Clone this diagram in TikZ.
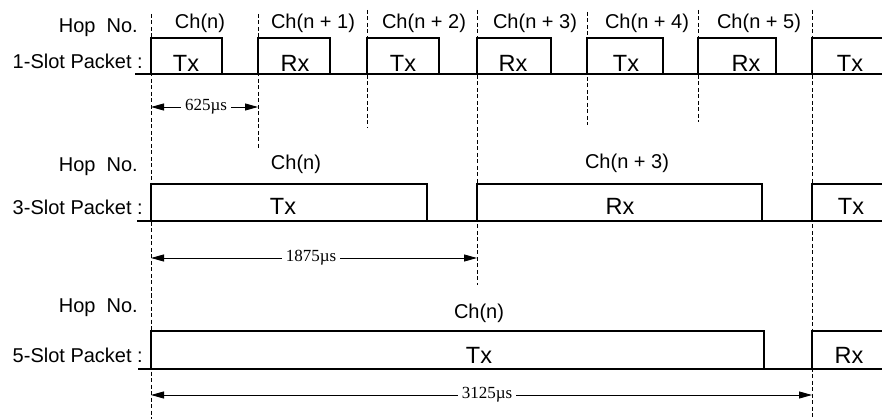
\documentclass[tikz,border=0pt]{standalone}
\usepackage{fontspec}
\setmainfont{Liberation Sans}
\newfontfamily\dimfont{Liberation Serif}
\usetikzlibrary{arrows.meta}
\begin{document}
\begin{tikzpicture}[x=1pt,y=-1pt,
  lbl/.style={font=\fontsize{20}{24}\selectfont, inner sep=0pt, anchor=base},
  rlbl/.style={lbl, anchor=base east},
  sigtxt/.style={font=\fontsize{23.5}{27}\selectfont, inner sep=0pt, anchor=base},
  dimtxt/.style={font=\dimfont\fontsize{17}{20}\selectfont, inner sep=4pt},
  sig/.style={line width=1.35pt, line join=miter},
  gridline/.style={line width=1pt, dash pattern=on 4pt off 2.5pt},
  dimarr/.style={-{Triangle[length=13pt,width=7pt]}, line width=0.9pt}]
\useasboundingbox (0,0) rectangle (882,419);

% ---- dashed slot boundaries
\coordinate (g0t) at (151,14);  \coordinate (g0b) at (151,419);
\coordinate (g1t) at (258,14);  \coordinate (g1b) at (258,150);
\coordinate (g2t) at (367,10);  \coordinate (g2b) at (367,128);
\coordinate (g3t) at (477,10);  \coordinate (g3b) at (477,285);
\coordinate (g4t) at (587,12);  \coordinate (g4b) at (587,125);
\coordinate (g5t) at (698,10);  \coordinate (g5b) at (698,122);
\coordinate (g6t) at (812,10);  \coordinate (g6b) at (812,419);
\foreach \i in {0,...,6} \draw[gridline] (g\i t) -- (g\i b);

% ---- row 1 : 1-slot packets
\node[rlbl] (hop1) at (138,33) {Hop\ \ No.};
\node[rlbl] (pk1) at (143,69) {1-Slot Packet :};
\draw[sig] (135,74) -- (882,74);
\foreach \s/\e in {151/222, 258/330, 367/439, 477/551, 587/663, 698/776}
  \draw[sig] (\s,74) -- (\s,38) -- (\e,38) -- (\e,74);
\draw[sig] (812,74) -- (812,38) -- (882,38);
\node[lbl] (c10) at (200,29) {Ch(n)};
\node[lbl] (c11) at (313,29) {Ch(n + 1)};
\node[lbl] (c12) at (424,29) {Ch(n + 2)};
\node[lbl] (c13) at (535,29) {Ch(n + 3)};
\node[lbl] (c14) at (647,29) {Ch(n + 4)};
\node[lbl] (c15) at (759,29) {Ch(n + 5)};
\node[sigtxt] (s10) at (186,72) {Tx};
\node[sigtxt] (s11) at (295,72) {Rx};
\node[sigtxt] (s12) at (403,72) {Tx};
\node[sigtxt] (s13) at (513,72) {Rx};
\node[sigtxt] (s14) at (626,72) {Tx};
\node[sigtxt] (s15) at (746,72) {Rx};
\node[sigtxt] (s16) at (850,72) {Tx};
\coordinate (a1l) at (151,107); \coordinate (a1r) at (258,107);
\node[dimtxt] (d1) at (206,107) {625µs};
\draw[dimarr] (d1.west) -- (a1l);
\draw[dimarr] (d1.east) -- (a1r);

% ---- row 2 : 3-slot packets
\node[rlbl] (hop2) at (138,172) {Hop\ \ No.};
\node[rlbl] (pk2) at (143,215) {3-Slot Packet :};
\draw[sig] (137,221) -- (882,221);
\draw[sig] (151,221) -- (151,184) -- (427,184) -- (427,221);
\draw[sig] (477,221) -- (477,184) -- (762,184) -- (762,221);
\draw[sig] (812,221) -- (812,184) -- (882,184);
\node[lbl] (c20) at (296,170) {Ch(n)};
\node[lbl] (c23) at (627,169) {Ch(n + 3)};
\node[sigtxt] (s20) at (283,215) {Tx};
\node[sigtxt] (s21) at (620,215) {Rx};
\node[sigtxt] (s22) at (851,215) {Tx};
\coordinate (a2l) at (151,258); \coordinate (a2r) at (477,258);
\node[dimtxt] (d2) at (311,258) {1875µs};
\draw[dimarr] (d2.west) -- (a2l);
\draw[dimarr] (d2.east) -- (a2r);

% ---- row 3 : 5-slot packets
\node[rlbl] (hop3) at (138,312) {Hop\ \ No.};
\node[rlbl] (pk3) at (143,362) {5-Slot Packet :};
\draw[sig] (138,369) -- (882,369);
\draw[sig] (151,369) -- (151,331) -- (764,331) -- (764,369);
\draw[sig] (812,369) -- (812,331) -- (882,331);
\node[lbl] (c30) at (479,318) {Ch(n)};
\node[sigtxt] (s30) at (479,363) {Tx};
\node[sigtxt] (s31) at (849,363) {Rx};
\coordinate (a3l) at (151,395); \coordinate (a3r) at (812,395);
\node[dimtxt] (d3) at (487,395) {3125µs};
\draw[dimarr] (d3.west) -- (a3l);
\draw[dimarr] (d3.east) -- (a3r);
\end{tikzpicture}
\end{document}
